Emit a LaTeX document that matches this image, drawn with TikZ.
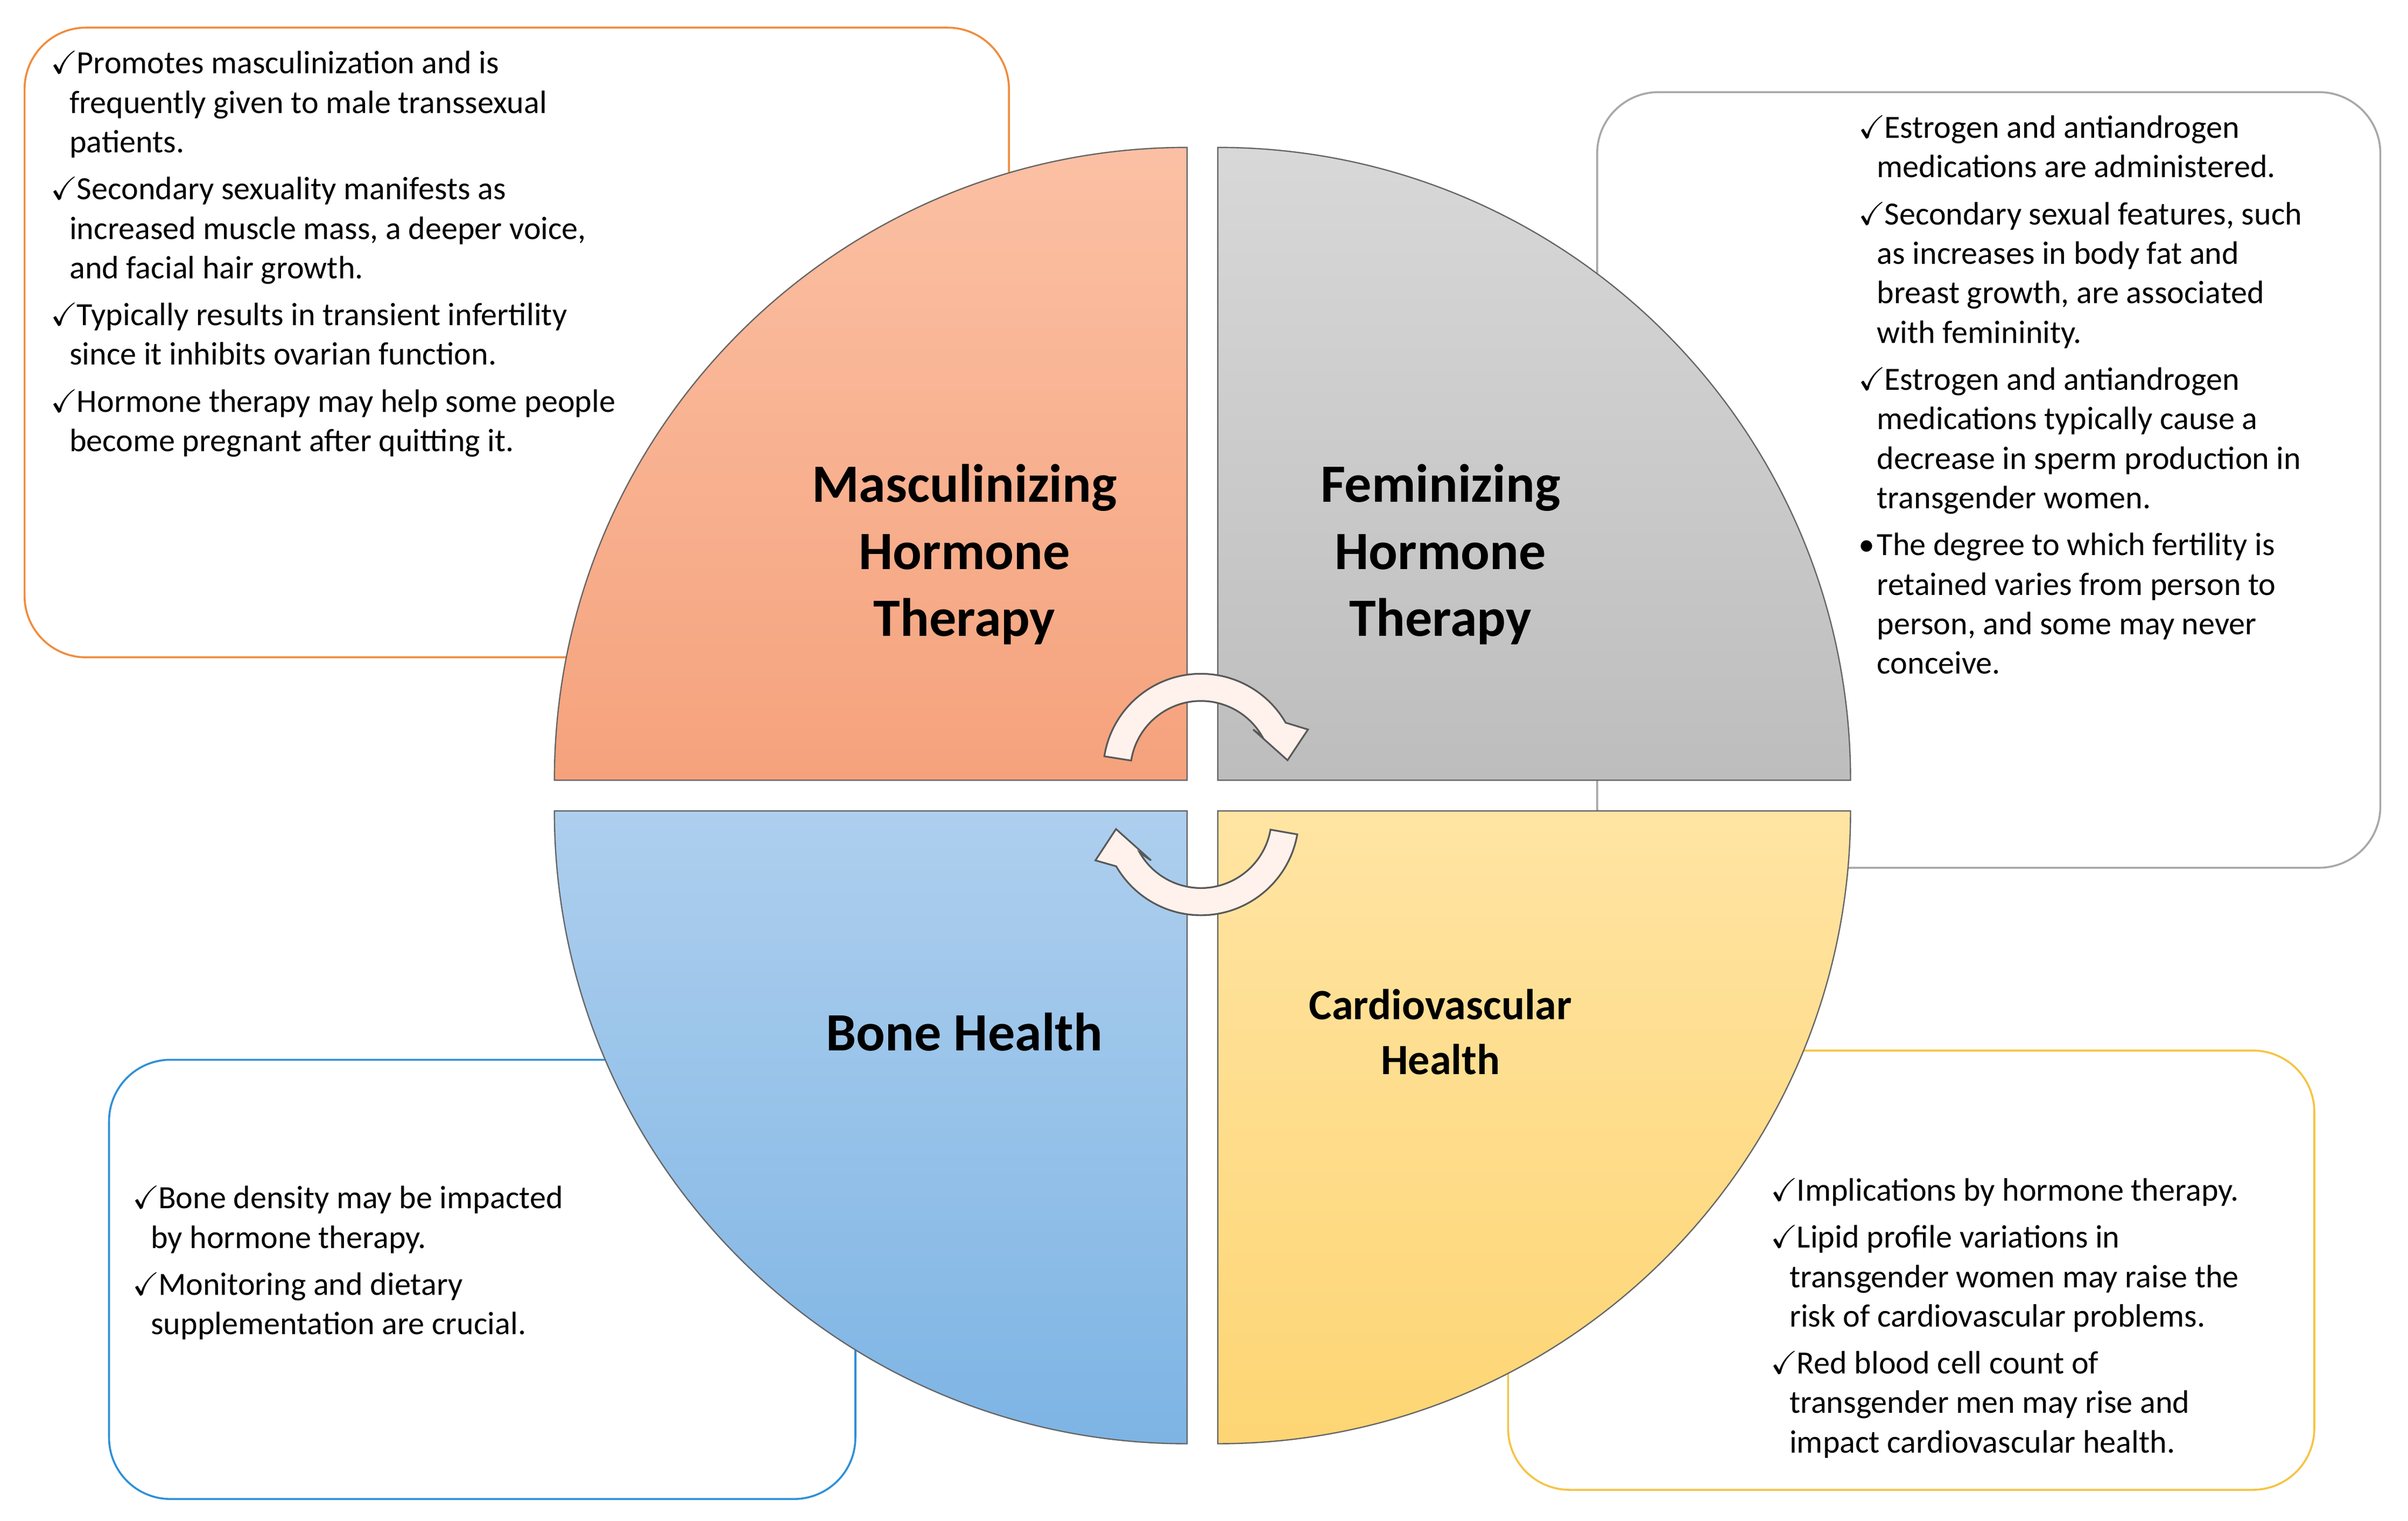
\documentclass[tikz,border=0pt]{standalone}
\usepackage{amssymb}
\usepackage{fontspec}
\setmainfont{Carlito}
\usetikzlibrary{positioning}

\definecolor{mascTop}{HTML}{FBC0A4}
\definecolor{mascBot}{HTML}{F5A27C}
\definecolor{femTop}{HTML}{D8D8D8}
\definecolor{femBot}{HTML}{BDBDBD}
\definecolor{boneTop}{HTML}{AECFEE}
\definecolor{boneBot}{HTML}{7DB4E4}
\definecolor{cardTop}{HTML}{FFE4A3}
\definecolor{cardBot}{HTML}{FDD573}
\definecolor{mascLine}{HTML}{F08C3E}
\definecolor{femLine}{HTML}{A8A8A8}
\definecolor{boneLine}{HTML}{2E90D8}
\definecolor{cardLine}{HTML}{F6C443}
\definecolor{arrowFill}{HTML}{FFF1EC}

\newcommand{\ck}{\makebox[0.42cm][l]{$\checkmark$}}
\newcommand{\bl}{\makebox[0.3cm][l]{\textbullet}}
\newcommand{\ind}{\hspace*{0.3cm}}
\newcommand{\gap}{\\[0.12cm]}

\tikzset{
    infobox/.style={rounded corners=1cm, line width=0.9pt, fill=white},
    infotext/.style={anchor=north west, align=left, inner sep=0pt,
        font=\fontsize{15}{18.3}\selectfont},
    quarter/.style={draw=gray!80!black, line width=0.6pt},
    title/.style={align=center, font=\fontsize{25}{31}\selectfont\bfseries},
    turn/.style={draw=gray!70!black, line width=0.8pt, fill=arrowFill}
}

\begin{document}
\begin{tikzpicture}[x=0.025cm, y=0.025cm]
\useasboundingbox (0,0) rectangle (1568,990);

% text boxes behind the circle
\draw[infobox, draw=mascLine] (16,562) rectangle (657,972);
\draw[infobox, draw=femLine] (1040,425) rectangle (1550,930);
\draw[infobox, draw=boneLine] (71,14) rectangle (557,300);
\draw[infobox, draw=cardLine] (982,20) rectangle (1507,306);

% four quarters
\shade[quarter, top color=mascTop, bottom color=mascBot]
    (773,482) -- (773,894) arc[start angle=90, end angle=180, radius=412] -- cycle;
\shade[quarter, top color=femTop, bottom color=femBot]
    (793,482) -- (1205,482) arc[start angle=0, end angle=90, radius=412] -- cycle;
\shade[quarter, top color=cardTop, bottom color=cardBot]
    (793,462) -- (793,50) arc[start angle=-90, end angle=0, radius=412] -- cycle;
\shade[quarter, top color=boneTop, bottom color=boneBot]
    (773,462) -- (361,462) arc[start angle=180, end angle=270, radius=412] -- cycle;

% titles
\node[title] (masc) at (628,629) {Masculinizing\\Hormone\\Therapy};
\node[title] (fem) at (938,629) {Feminizing\\Hormone\\Therapy};
\node[title] (bone) at (628,318) {Bone Health};
\node[title, font=\fontsize{20}{25.5}\selectfont\bfseries] (card) at (938,318) {Cardiovascular\\Health};

% turning arrows
\begin{scope}[shift={(782,487.6)}]
\draw[turn] (171:63.7) arc[start angle=171, end angle=30, radius=63.7]
    -- (69.7,27.4) -- (56.4,7.4) -- (34,27.4) -- (30:46)
    arc[start angle=30, end angle=171, radius=46] -- cycle;
\end{scope}
\begin{scope}[shift={(782,457.8)}]
\draw[turn] (-10:63.7) arc[start angle=-10, end angle=-150, radius=63.7]
    -- (-68.7,-28) -- (-55.3,-7.6) -- (-32.5,-28) -- (-150:46)
    arc[start angle=-150, end angle=-10, radius=46] -- cycle;
\end{scope}

% box texts
\node[infotext] (mascText) at (33,957) {%
\ck Promotes masculinization and is\\
\ind frequently given to male transsexual\\
\ind patients.\gap
\ck Secondary sexuality manifests as\\
\ind increased muscle mass, a deeper voice,\\
\ind and facial hair growth.\gap
\ck Typically results in transient infertility\\
\ind since it inhibits ovarian function.\gap
\ck Hormone therapy may help some people\\
\ind become pregnant after quitting it.};

\node[infotext] (femText) at (1210,915) {%
\ck Estrogen and antiandrogen\\
\ind medications are administered.\gap
\ck Secondary sexual features, such\\
\ind as increases in body fat and\\
\ind breast growth, are associated\\
\ind with femininity.\gap
\ck Estrogen and antiandrogen\\
\ind medications typically cause a\\
\ind decrease in sperm production in\\
\ind transgender women.\gap
\bl The degree to which fertility is\\
\ind retained varies from person to\\
\ind person, and some may never\\
\ind conceive.};

\node[infotext] (boneText) at (86,218) {%
\ck Bone density may be impacted\\
\ind by hormone therapy.\gap
\ck Monitoring and dietary\\
\ind supplementation are crucial.};

\node[infotext] (cardText) at (1153,223) {%
\ck Implications by hormone therapy.\gap
\ck Lipid profile variations in\\
\ind transgender women may raise the\\
\ind risk of cardiovascular problems.\gap
\ck Red blood cell count of\\
\ind transgender men may rise and\\
\ind impact cardiovascular health.};
\end{tikzpicture}
\end{document}
